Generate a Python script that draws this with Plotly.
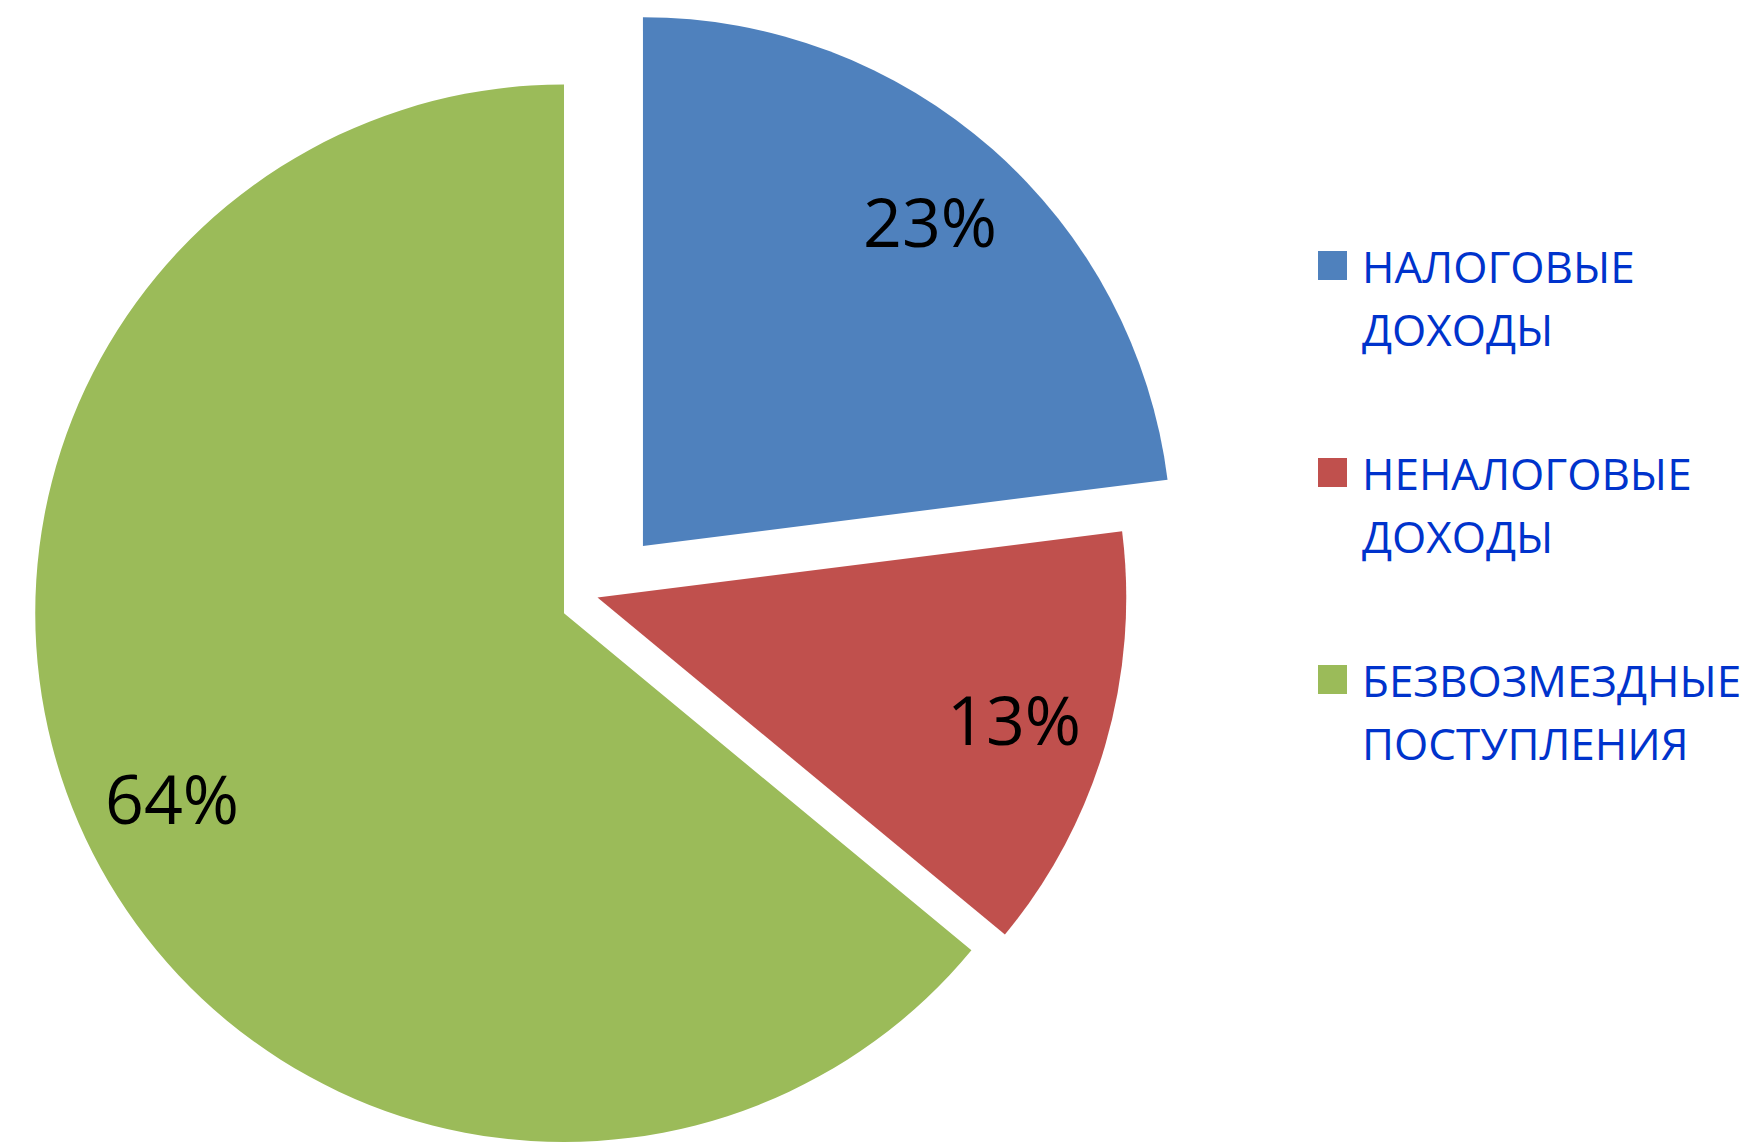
import math
import plotly.graph_objects as go

# ---- data ----
labels = ["НАЛОГОВЫЕ ДОХОДЫ", "НЕНАЛОГОВЫЕ ДОХОДЫ", "БЕЗВОЗМЕЗДНЫЕ ПОСТУПЛЕНИЯ"]
values = [23, 13, 64]
colors = ["#4F81BD", "#C0504D", "#9BBB59"]
pulls = [0.13, 0.0, 0.07]

# ---- layout parameters ----
W, H = 1760, 1195
FONT = "Open Sans"
LEGEND_COLOR = "#0033CC"
LABEL_RADIUS = 0.82  # fraction of radius where the percent labels sit

dom_x = [0, H / W]
dom_y = [0, 1]

fig = go.Figure(
    go.Pie(
        labels=labels,
        values=values,
        marker=dict(colors=colors, line=dict(width=0)),
        pull=pulls,
        sort=False,
        direction="clockwise",
        rotation=0,
        textinfo="none",
        domain=dict(x=dom_x, y=dom_y),
        showlegend=False,
        hoverinfo="skip",
    )
)

# pie geometry as plotly computes it (margins are 0)
box_w = W * (dom_x[1] - dom_x[0])
box_h = H * (dom_y[1] - dom_y[0])
r = min(box_w, box_h) / 2 / (1 + max(pulls))
cx = W * (dom_x[0] + dom_x[1]) / 2
cy = H * (1 - (dom_y[0] + dom_y[1]) / 2)

total = sum(values)
annotations = []
cum = 0
for v, p in zip(values, pulls):
    mid = (cum + v / 2) / total * 2 * math.pi  # clockwise from 12 o'clock
    cum += v
    dx, dy = math.sin(mid), -math.cos(mid)
    px = cx + (p + LABEL_RADIUS) * r * dx
    py = cy + (p + LABEL_RADIUS) * r * dy
    annotations.append(dict(
        xref="paper", yref="paper", x=px / W, y=1 - py / H,
        xanchor="center", yanchor="middle", showarrow=False,
        text=f"{round(v / total * 100)}%",
        font=dict(family=FONT, size=68, color="black"),
    ))

# custom legend (large square swatches, two-line labels)
leg_text_x = 1360
sw_x0, sw_x1 = 1318, 1347
sw_h = 29
first_cy = 265.5
step = 207
line_step = 63
shapes = []
for i, (lab, col) in enumerate(zip(labels, colors)):
    cyi = first_cy + i * step
    shapes.append(dict(
        type="rect", xref="paper", yref="paper",
        x0=sw_x0 / W, x1=sw_x1 / W,
        y0=1 - (cyi + sw_h / 2) / H, y1=1 - (cyi - sw_h / 2) / H,
        fillcolor=col, line=dict(width=0),
    ))
    for j, part in enumerate(lab.split(" ")):
        annotations.append(dict(
            xref="paper", yref="paper",
            x=leg_text_x / W, y=1 - (cyi + j * line_step) / H,
            xanchor="left", yanchor="middle", align="left",
            text=part, showarrow=False,
            font=dict(family=FONT, size=44, color=LEGEND_COLOR),
        ))

fig.update_layout(
    width=W, height=H,
    margin=dict(l=0, r=0, t=0, b=0),
    paper_bgcolor="white", plot_bgcolor="white",
    shapes=shapes, annotations=annotations,
    showlegend=False,
)

fig.write_html(
    "out.html",
    config={"displayModeBar": False},
    post_script="document.body.style.margin='0';",
)
